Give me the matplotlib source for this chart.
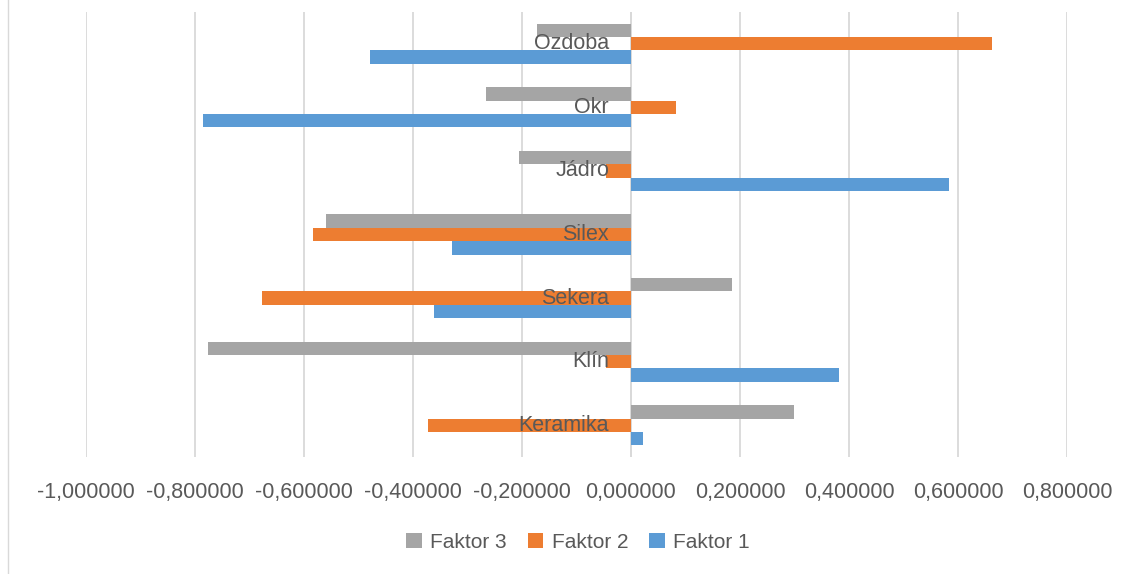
import matplotlib.pyplot as plt
import matplotlib.transforms as mtransforms
from matplotlib.lines import Line2D
import numpy as np

plt.rcParams["font.family"] = ["Liberation Sans", "DejaVu Sans"]

TEXT = "#595959"
GRID = "#d9d9d9"

categories = ["Keramika", "Klín", "Sekera", "Silex", "Jádro", "Okr", "Ozdoba"]
faktor1 = [0.022, 0.382, -0.361, -0.328, 0.583, -0.786, -0.478]
faktor2 = [-0.373, -0.045, -0.677, -0.584, -0.045, 0.082, 0.662]
faktor3 = [0.299, -0.776, 0.185, -0.560, -0.205, -0.266, -0.173]
xticks = [-1.0, -0.8, -0.6, -0.4, -0.2, 0.0, 0.2, 0.4, 0.6, 0.8]

fig = plt.figure(figsize=(11.37, 5.74), dpi=100)
ax = fig.add_axes([86 / 1137, 1 - 457 / 574, 981 / 1137, 445 / 574])

y = np.arange(len(categories))
h = 0.21
b1 = ax.barh(y - h, faktor1, height=h, color="#5B9BD5", label="Faktor 1", zorder=2)
b2 = ax.barh(y, faktor2, height=h, color="#ED7D31", label="Faktor 2", zorder=2)
b3 = ax.barh(y + h, faktor3, height=h, color="#A5A5A5", label="Faktor 3", zorder=2)

ax.set_xlim(-1.0, 0.8)
ax.set_ylim(-0.5, len(categories) - 0.5)
ax.set_xticks(xticks)
ax.set_xticklabels([f"{v:.6f}".replace(".", ",") for v in xticks])
ax.set_yticks([])
ax.tick_params(axis="x", length=0, pad=18, labelsize=15.5, labelcolor=TEXT)
ax.grid(axis="x", color=GRID, linewidth=1.3, zorder=0)
ax.axvline(0, color=GRID, linewidth=1.3, zorder=1)
for s in ax.spines.values():
    s.set_visible(False)

# category labels sit on the zero axis, over the bars
offset = mtransforms.offset_copy(ax.transData, fig=fig, x=-22, y=0, units="dots")
for yi, name in zip(y, categories):
    ax.text(0, yi, name, ha="right", va="center", fontsize=15.5,
            color=TEXT, transform=offset, zorder=5)

fig.legend([b3, b2, b1], ["Faktor 3", "Faktor 2", "Faktor 1"],
           loc="center", bbox_to_anchor=(578 / 1137, 1 - 542 / 574),
           ncol=3, frameon=False, fontsize=15, labelcolor=TEXT,
           handlelength=0.75, handleheight=0.75, handletextpad=0.4,
           columnspacing=1.0)

# chart area border on the left
fig.add_artist(Line2D([7.5 / 1137, 7.5 / 1137], [0, 1], color=GRID,
                      linewidth=1, transform=fig.transFigure))

fig.savefig("out.png", dpi=100)
